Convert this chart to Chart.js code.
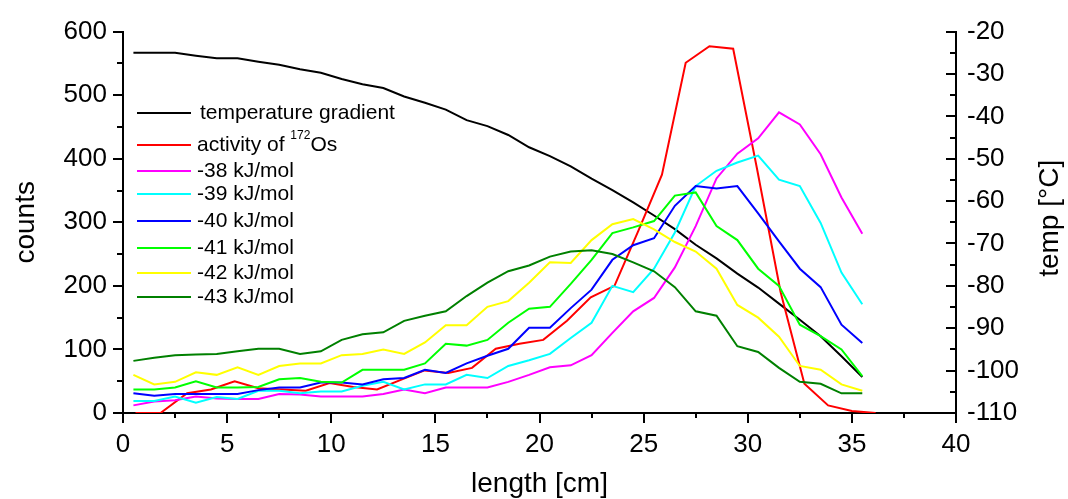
<!DOCTYPE html>
<html><head><meta charset="utf-8">
<script src="https://cdn.jsdelivr.net/npm/chart.js@4/dist/chart.umd.min.js"></script>
<style>html,body{margin:0;padding:0;background:#fff;overflow:hidden}canvas{display:block}</style>
</head><body>
<canvas id="c" width="1068" height="499"></canvas>
<script>
// ---- data ----
const lengthCm = [0.5,1.5,2.5,3.5,4.5,5.5,6.5,7.5,8.5,9.5,10.5,11.5,12.5,13.5,14.5,15.5,16.5,17.5,18.5,19.5,20.5,21.5,22.5,23.5,24.5,25.5,26.5,27.5,28.5,29.5,30.5,31.5,32.5,33.5,34.5,35.5];
const tempGradient = [-25,-25,-25,-25.7,-26.3,-26.3,-27.1,-27.8,-28.9,-29.7,-31.2,-32.4,-33.3,-35.3,-36.8,-38.4,-40.9,-42.3,-44.4,-47.3,-49.4,-51.8,-54.7,-57.4,-60.3,-63.4,-66.6,-70.3,-73.5,-77.1,-80.4,-84.2,-88.0,-91.9,-96.6,-101.5];
const activityX = [0.6,1.8,3.08,4.22,5.36,6.5,7.64,8.78,9.92,11.06,12.2,13.34,14.48,15.62,16.76,17.9,19.04,20.18,21.32,22.46,23.6,24.74,25.88,27.02,28.16,29.3,30.44,31.58,32.72,33.86,35.0,36.14];
const activityOs = [0,0,31,37,50,39,37,35,47,41,37,52,67,63,71,101,109,115,145,182,200,286,375,551,577,573,385,190,46,12,3,0];
const sim38 = [12,18,20,26,23,22,22,30,29,26,26,26,30,37,31,40,40,40,49,60,72,75,91,126,160,181,229,294,369,408,432,473,454,407,339,282];
const sim39 = [19,19,26,16,25,22,35,35,31,34,34,43,49,37,45,45,60,55,74,83,93,118,142,200,190,227,284,357,381,394,405,367,357,299,221,171];
const sim40 = [31,27,30,30,30,30,36,40,40,48,48,45,53,55,68,63,78,90,101,134,134,165,194,241,264,275,326,357,353,357,314,270,227,198,139,110];
const sim41 = [37,37,40,50,40,40,41,53,55,49,48,68,68,68,78,109,106,115,142,164,167,203,241,283,292,302,342,347,294,272,227,200,139,121,100,58];
const sim42 = [60,45,49,64,60,72,60,74,78,78,91,93,100,93,111,138,138,167,176,205,237,236,272,297,305,289,269,254,227,170,150,120,74,68,45,35];
const sim43 = [82,87,91,92,93,97,101,101,93,97,115,124,127,145,153,160,184,205,223,232,246,254,256,250,237,223,198,160,153,105,96,71,49,46,31,31];
const lengthTicks = [0,5,10,15,20,25,30,35,40];
const countTicks = [0,100,200,300,400,500,600];
const tempTicks = [-110,-100,-90,-80,-70,-60,-50,-40,-30,-20];
const seriesLabels = ['temperature gradient','activity of 172Os','-38 kJ/mol','-39 kJ/mol','-40 kJ/mol','-41 kJ/mol','-42 kJ/mol','-43 kJ/mol'];
const seriesColors = ['#000000','#ff0000','#ff00ff','#00ffff','#0000ff','#00ff00','#ffff00','#008000'];
const rightTitle = 'temp [°C]';

const FONT = '"Liberation Sans", Arial, sans-serif';
const pts = (xs, ys) => ys.map((v, i) => ({x: xs[i], y: v}));

const sims = [sim38, sim39, sim40, sim41, sim42, sim43];
const datasets = [
  {label: seriesLabels[0], data: pts(lengthCm, tempGradient), yAxisID: 'y2', borderColor: seriesColors[0], order: 8},
  {label: seriesLabels[1], data: pts(activityX, activityOs), yAxisID: 'y', borderColor: seriesColors[1], order: 7},
];
sims.forEach((s, k) => datasets.push({label: seriesLabels[k+2], data: pts(lengthCm, s), yAxisID: 'y', borderColor: seriesColors[k+2], order: 6-k}));
datasets.forEach(d => { d.borderWidth = 2; d.pointRadius = 0; d.fill = false; d.tension = 0; });

const tickPlugin = {
  id: 'originTicks',
  afterDraw(chart) {
    const ctx = chart.ctx, sx = chart.scales.x, sy = chart.scales.y, sy2 = chart.scales.y2;
    ctx.save(); ctx.strokeStyle = '#000'; ctx.lineWidth = 2; ctx.beginPath();
    const base = chart.chartArea.bottom;
    for (let v = 0; v <= 40; v += 2.5) {
      const p = Math.round(sx.getPixelForValue(v)); const len = (v % 5 === 0) ? 10 : 5;
      ctx.moveTo(p, base); ctx.lineTo(p, base + len);
    }
    const L = chart.chartArea.left;
    for (let v = 0; v <= 600; v += 50) {
      const p = Math.round(sy.getPixelForValue(v)); const len = (v % 100 === 0) ? 10 : 6;
      ctx.moveTo(L, p); ctx.lineTo(L - len, p);
    }
    const R = chart.chartArea.right;
    for (let v = -110; v <= -20; v += 5) {
      const p = Math.round(sy2.getPixelForValue(v)); const len = (v % 10 === 0) ? 10 : 6;
      ctx.moveTo(R, p); ctx.lineTo(R - len, p);
    }
    ctx.stroke();
    // right axis title, reading bottom-to-top
    ctx.fillStyle = '#000'; ctx.font = '28px ' + FONT;
    ctx.textAlign = 'center'; ctx.textBaseline = 'middle';
    ctx.translate(sy2.right - 18, (chart.chartArea.top + chart.chartArea.bottom) / 2 - 4);
    ctx.rotate(-Math.PI / 2);
    ctx.fillText(rightTitle, 0, 0);
    ctx.restore();
  }
};

const legendPlugin = {
  id: 'insideLegend',
  afterDatasetsDraw(chart) {
    const ctx = chart.ctx, a = chart.chartArea;
    const rowY = [113, 145, 171, 194, 221, 248, 273, 297];
    ctx.save();
    ctx.textBaseline = 'middle'; ctx.textAlign = 'left'; ctx.fillStyle = '#000';
    chart.data.datasets.forEach((d, i) => {
      const y = rowY[i];
      ctx.strokeStyle = d.borderColor; ctx.lineWidth = 2;
      ctx.beginPath(); ctx.moveTo(a.left + 14, y); ctx.lineTo(a.left + 68, y); ctx.stroke();
      const tx = a.left + (i === 0 ? 77 : 74);
      ctx.font = '21px ' + FONT;
      if (i === 1) {
        const m = d.label.match(/^(.*of )(\d+)(.*)$/);
        ctx.fillText(m[1], tx, y);
        let w = ctx.measureText(m[1]).width;
        ctx.font = '12px ' + FONT;
        ctx.fillText(m[2], tx + w, y - 9);
        w += ctx.measureText(m[2]).width;
        ctx.font = '21px ' + FONT;
        ctx.fillText(m[3], tx + w, y);
      } else {
        ctx.fillText(d.label, tx, y);
      }
    });
    ctx.restore();
  }
};

const setTicks = arr => scale => { scale.ticks = arr.map(v => ({value: v})); };

new Chart(document.getElementById('c'), {
  type: 'line',
  data: {datasets},
  options: {
    responsive: false, animation: false, devicePixelRatio: 1,
    layout: {padding: {top: 26, left: 0, right: 0, bottom: 0}},
    plugins: {legend: {display: false}, tooltip: {enabled: false}},
    scales: {
      x: {
        type: 'linear', position: 'bottom', min: 0, max: 40,
        afterBuildTicks: setTicks(lengthTicks),
        afterFit: s => { s.height = 86; },
        grid: {display: false, drawTicks: false},
        border: {display: true, color: '#000', width: 2},
        ticks: {color: '#000', font: {family: FONT, size: 26}, padding: 16, maxRotation: 0},
        title: {display: true, text: 'length [cm]', color: '#000', font: {family: FONT, size: 28, lineHeight: 1.0}, padding: {top: 0, bottom: 1}}
      },
      y: {
        type: 'linear', position: 'left', min: 0, max: 600,
        afterBuildTicks: setTicks(countTicks),
        afterFit: s => { s.width = 123; },
        grid: {display: false, drawTicks: false},
        border: {display: true, color: '#000', width: 2},
        ticks: {color: '#000', font: {family: FONT, size: 26}, padding: 16},
        title: {display: true, text: 'counts', color: '#000', font: {family: FONT, size: 28, lineHeight: 1.0}, padding: {top: 12, bottom: 0}}
      },
      y2: {
        type: 'linear', position: 'right', min: -110, max: -20,
        afterBuildTicks: setTicks(tempTicks),
        afterFit: s => { s.width = 112; },
        grid: {display: false, drawTicks: false},
        border: {display: true, color: '#000', width: 2},
        ticks: {color: '#000', font: {family: FONT, size: 26}, padding: 11},
        title: {display: false}
      }
    }
  },
  plugins: [tickPlugin, legendPlugin]
});
</script>
</body></html>
